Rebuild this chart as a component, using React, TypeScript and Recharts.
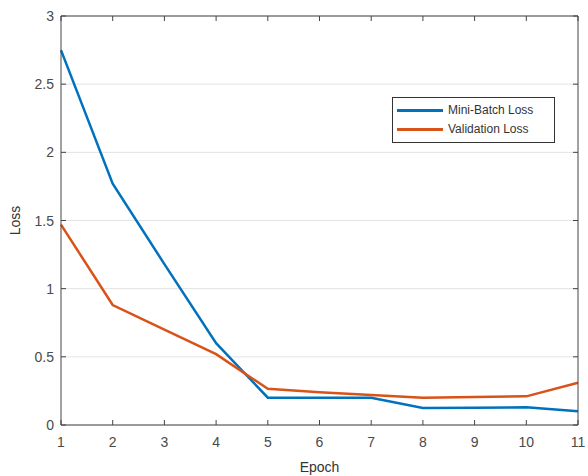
import { LineChart, Line, XAxis, YAxis, CartesianGrid, Label } from "recharts";

const epochs = [1, 2, 3, 4, 5, 6, 7, 8, 9, 10, 11];
const miniBatchLoss = [2.75, 1.77, 1.18, 0.6, 0.2, 0.2, 0.2, 0.125, 0.127, 0.13, 0.1];
const validationLoss = [1.47, 0.88, 0.7, 0.52, 0.265, 0.24, 0.22, 0.2, 0.205, 0.21, 0.31];
const xTicks = [1, 2, 3, 4, 5, 6, 7, 8, 9, 10, 11];
const yTicks = [0, 0.5, 1, 1.5, 2, 2.5, 3];
const seriesNames = ["Mini-Batch Loss", "Validation Loss"];

const data = epochs.map((epoch, i) => ({
  epoch,
  mini: miniBatchLoss[i],
  val: validationLoss[i],
}));

const blue = "#0072BD";
const orange = "#D95319";
const axisColor = "#444";
const textColor = "#4a4a4a";
const font = "'Liberation Sans', Arial, sans-serif";

const BottomTick = (props: any) => {
  const { x, y, payload } = props;
  return (
    <g>
      <line x1={x} x2={x} y1={y} y2={y - 5} stroke={axisColor} />
      <text x={x} y={y + 22} textAnchor="middle" fill={textColor} fontSize={14} fontFamily={font}>
        {String(payload.value)}
      </text>
    </g>
  );
};

const TopTick = (props: any) => {
  const { x, y } = props;
  return <line x1={x} x2={x} y1={y} y2={y + 5} stroke={axisColor} />;
};

const LeftTick = (props: any) => {
  const { x, y, payload } = props;
  return (
    <g>
      <line x1={x} x2={x + 5} y1={y} y2={y} stroke={axisColor} />
      <text x={x - 7} y={y + 5} textAnchor="end" fill={textColor} fontSize={14} fontFamily={font}>
        {String(payload.value)}
      </text>
    </g>
  );
};

const RightTick = (props: any) => {
  const { x, y } = props;
  return <line x1={x} x2={x - 5} y1={y} y2={y} stroke={axisColor} />;
};

const LegendBox = () => (
  <div
    style={{
      position: "absolute",
      left: 392,
      top: 97,
      width: 153,
      border: "1px solid #333",
      background: "#fff",
      padding: "3px 4px",
      fontFamily: font,
      fontSize: 12,
      color: "#333",
      lineHeight: "19px",
    }}
  >
    {seriesNames.map((name, i) => (
      <div key={name} style={{ display: "flex", alignItems: "center" }}>
        <span style={{ display: "inline-block", width: 46, height: 3, background: i === 0 ? blue : orange, marginRight: 5 }} />
        {name}
      </div>
    ))}
  </div>
);

export default function App() {
  return (
    <div style={{ position: "absolute", left: 0, top: 0, width: 588, height: 476, background: "#fff" }}>
      <LineChart width={588} height={476} data={data} margin={{ top: 15, right: 9, bottom: 0, left: 10 }}>
        <CartesianGrid xAxisId="b" yAxisId="l" vertical={false} stroke="#e3e3e3" />
        <XAxis
          xAxisId="b"
          dataKey="epoch"
          type="number"
          domain={[1, 11]}
          ticks={xTicks}
          height={51}
          stroke={axisColor}
          tickLine={false}
          tickSize={0}
          tickMargin={0}
          tick={BottomTick}
          interval={0}
        >
          <Label value="Epoch" position="insideBottom" offset={4} fill="#333" fontSize={14} fontFamily={font} />
        </XAxis>
        <XAxis
          xAxisId="t"
          orientation="top"
          dataKey="epoch"
          type="number"
          domain={[1, 11]}
          ticks={xTicks}
          height={1}
          stroke={axisColor}
          tickLine={false}
          tickSize={0}
          tickMargin={0}
          tick={TopTick}
          interval={0}
        />
        <YAxis
          yAxisId="l"
          type="number"
          domain={[0, 3]}
          ticks={yTicks}
          width={51}
          stroke={axisColor}
          tickLine={false}
          tickSize={0}
          tickMargin={0}
          tick={LeftTick}
          interval={0}
        >
          <Label value="Loss" angle={-90} position="insideLeft" offset={5} fill="#333" fontSize={14} fontFamily={font} style={{ textAnchor: "middle" }} />
        </YAxis>
        <YAxis
          yAxisId="r"
          orientation="right"
          type="number"
          domain={[0, 3]}
          ticks={yTicks}
          width={1}
          stroke={axisColor}
          tickLine={false}
          tickSize={0}
          tickMargin={0}
          tick={RightTick}
          interval={0}
        />
        <Line xAxisId="t" yAxisId="r" type="linear" dataKey="mini" stroke="none" strokeWidth={0} dot={false} legendType="none" isAnimationActive={false} />
        <Line xAxisId="b" yAxisId="l" type="linear" dataKey="mini" name={seriesNames[0]} stroke={blue} strokeWidth={2.5} dot={false} isAnimationActive={false} />
        <Line xAxisId="b" yAxisId="l" type="linear" dataKey="val" name={seriesNames[1]} stroke={orange} strokeWidth={2.5} dot={false} isAnimationActive={false} />
      </LineChart>
      <LegendBox />
    </div>
  );
}
